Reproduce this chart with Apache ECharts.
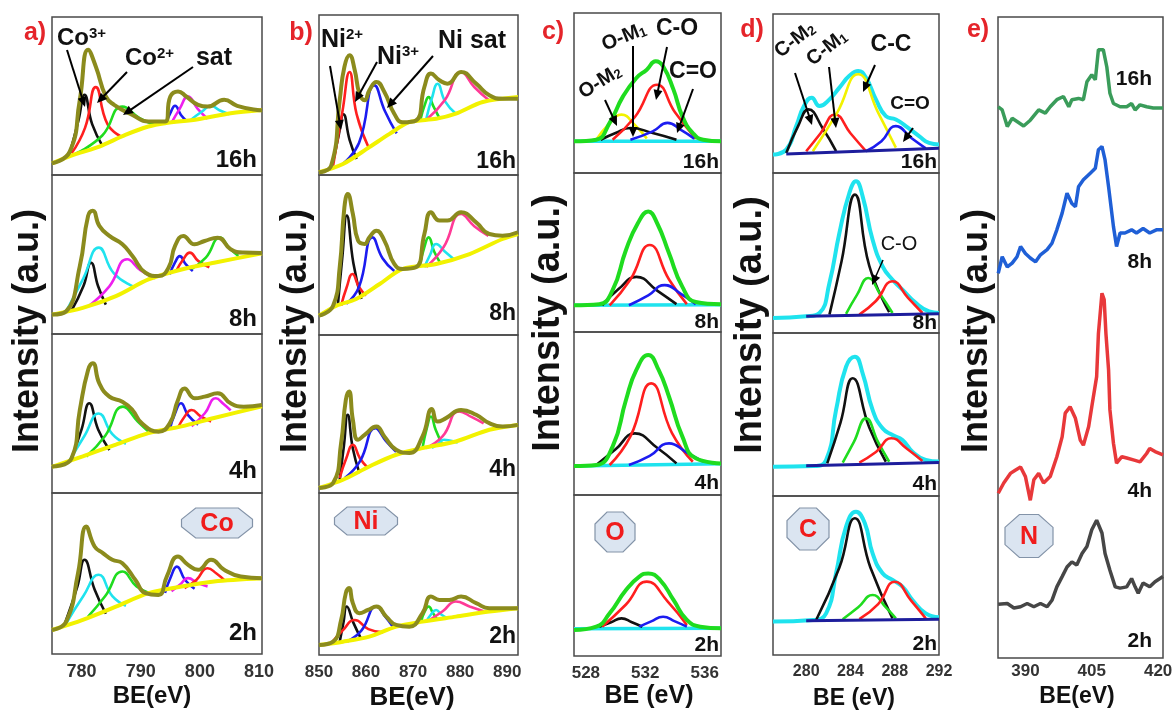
<!DOCTYPE html>
<html>
<head>
<meta charset="utf-8">
<script src="https://cdn.jsdelivr.net/npm/echarts@6/dist/echarts.min.js"></script>
<style>
  html, body { margin: 0; background: #fff; }
  #chart { width: 1174px; height: 717px; }
</style>
</head>
<body>
<div id="chart"></div>
<script>
// ---- data: [BE (eV), intensity in % of sub-panel height] ----
const coTicks = [780, 790, 800, 810]
const niTicks = [850, 860, 870, 880, 890]
const oTicks = [528, 532, 536]
const cTicks = [280, 284, 288, 292]
const nTicks = [390, 405, 420]
const timeLabels = ['16h', '8h', '4h', '2h']

// a) Co 2p
const coEnv16 = [[775,7.4],[778,14.8],[779.7,47.6],[781.1,79.3],[782.4,68.7],[784.1,49.7],[785.5,44.4],[788.6,38],[791.3,33.8],[794.1,33.8],[795,49.7],[796.3,52.9],[797.7,49.7],[799.7,44.4],[801.3,43.3],[804.1,47.6],[806.3,43.8],[809.7,41.2],[810.5,41]]
const coBg16 = [[775,7.4],[779.1,13.3],[783,18],[787.4,25.4],[791.3,30.7],[794.1,32.8],[799.7,35.3],[805.2,39.1],[810.5,41.2]]
const coPeaks16 = [
  [[778,13.7],[779.5,35],[780.5,50.7],[781.8,32],[783.6,18]],
  [[778.3,13.7],[780.6,30],[782.4,55.6],[784.4,32],[786.9,24]],
  [[779,13.5],[783.5,25],[786.9,43.3],[789.8,36],[792.5,31.5]],
  [[794.3,33],[795.1,40],[795.8,43.8],[796.8,38],[797.8,34]],
  [[795.2,33],[796.6,42],[798,49.7],[799.6,42],[801.3,35.5]],
  [[798.5,35],[800.3,40],[801.9,43.8],[803.3,41],[805,38.5]]
]
const coEnv8 = [[775,12.2],[777.4,14.3],[779.7,42.7],[781.1,74.3],[781.9,77.5],[783,68],[784.7,61.7],[786.9,56.4],[788.6,49],[790.8,38.5],[793,36.4],[794.7,41.7],[795.8,55.4],[797.2,61.7],[799.1,56.4],[800.8,58.5],[803,60.6],[805.2,53.3],[807.4,51.2],[810.5,51]]
const coBg8 = [[775,12.2],[780.2,16.4],[785.8,23.8],[791.3,34.3],[796.9,40.6],[802.4,44.8],[810.5,50.8]]
const coPeaks8 = [
  [[778.3,14.7],[780.3,30],[781.6,44.8],[782.8,30],[784.1,18.5]],
  [[777.4,14.3],[780.3,35],[782.9,54.3],[785.5,38],[789,29.5]],
  [[781,17],[784.7,30],[787.7,47],[790,40],[792.5,35]],
  [[794.9,37.5],[795.8,45],[796.6,49],[797.6,44],[798.8,39.6]],
  [[796,39.6],[797.2,47],[798.3,51.2],[799.7,46],[801.6,42]],
  [[798.6,41],[801,48],[803.4,60.6],[805,54],[806.5,49]]
]
const coEnv4 = [[775,16.6],[778.3,21.8],[779.7,52.2],[781.1,77.4],[781.9,81.6],[783,69],[784.7,60.6],[786.9,57.4],[788.6,52.2],[790.2,43.8],[793,38.6],[794.9,43.8],[796.3,58.5],[797.4,65.8],[799.1,59.6],[800.8,60.6],[803,62.7],[805.2,56.4],[807.4,54.3],[810.5,55.3]]
const coBg4 = [[775,16.4],[780.2,23.1],[785.8,30.4],[791.3,37.7],[796.9,41.9],[802.4,47.2],[810.5,54.6]]
const coPeaks4 = [
  [[778.3,21.8],[780,40],[781.3,56.4],[782.8,40],[784.7,27]],
  [[778,20.7],[780.5,36],[782.9,50],[785.2,37],[787.5,31]],
  [[780.8,23],[784,36],[787,54.3],[789.5,45],[791.5,38]],
  [[794.9,40],[795.8,50],[796.8,56.4],[798,49],[799.7,43]],
  [[796.3,41],[797.4,48],[798.6,52.2],[800.2,48],[801.9,45]],
  [[798.6,42],[800.8,50],[802.7,59.6],[804,56],[805.2,52]]
]
const coEnv2 = [[775,14.9],[777.4,20.1],[779.4,50.2],[780.8,79.2],[782.2,66.8],[783.6,62.7],[785.2,58.5],[786.9,56.4],[789.1,46],[790.8,37.8],[793,36.7],[794.4,48.1],[796.3,60.5],[798,55.4],[799.7,52.3],[801.9,58.5],[804.1,52.3],[806.9,48.1],[810.5,47]]
const coBg2 = [[775,14.9],[780.2,21.2],[785.8,29.4],[791.3,37.8],[796.9,41.9],[802.4,45],[810.5,47]]
const coPeaks2 = [
  [[777.2,19.1],[779.3,42],[780.5,58.5],[782.2,40],[784.1,25]],
  [[777.4,19.1],[780.3,36],[782.9,49.2],[785.2,36],[787.5,30]],
  [[781.1,23.2],[784,36],[786.9,51.2],[789.3,42],[791.5,37.8]],
  [[794.1,38],[795.1,48],[796.1,54.3],[797.5,46],[799.1,40.5]],
  [[795.2,39],[796.6,43],[798,47.1],[799.6,44],[801.3,42]],
  [[797.4,41],[799.4,46],[801.3,53.3],[802.8,50],[804.1,46]]
]

// b) Ni 2p
const niEnv16 = [[850,1.7],[852.6,5.9],[854.4,46.7],[855.4,67.6],[856.5,74.9],[857.6,65.5],[858.6,50.8],[859.7,46.7],[860.7,52.9],[862.2,58.2],[863.9,51.9],[866,38.3],[867.8,33],[870.6,34.1],[872.4,55],[873.8,63.4],[875.6,59.2],[877.3,57.1],[880.2,64.4],[883.4,57.1],[886.2,49.8],[889,47.7],[892.3,47.7]]
const niBg16 = [[850,1.7],[855.1,6.9],[860.7,17.4],[865,25.7],[869.2,33],[874.9,35.1],[879.1,38.3],[884.8,45.6],[892.3,48.7]]
const niPeaks16 = [
  [[852.8,6],[854.2,25],[855.2,38],[856.5,22],[858,10]],
  [[853,5.9],[855,40],[856.5,64.4],[858,38],[860.5,17.5]],
  [[855.1,7],[858.5,20],[861.8,56],[864,40],[866.5,26]],
  [[871.6,35],[872.5,44],[873.3,48.7],[874.3,43],[875.6,35.5]],
  [[872.8,35],[874,48],[875.2,57],[876.8,46],[879.1,38.3]],
  [[873,35],[876.8,47],[880.2,64.4],[883,55],[886,47]]
]
const niEnv8 = [[850,12.1],[853,18.3],[854.4,42.3],[855.4,79.8],[856.1,88.1],[857.2,75.6],[858.3,59],[859.7,56.9],[860.7,61],[862.2,65.2],[863.9,59],[866,44.4],[867.8,41.3],[870.6,42.3],[872.4,63.1],[873.8,76.7],[875.6,71.5],[877.3,71.5],[880.2,76.7],[883.4,70.4],[886.2,63.1],[889,62.1],[892.3,64.2]]
const niBg8 = [[850,12.1],[853.7,18.3],[857.9,22.5],[862.9,31.9],[867.8,41.3],[874.9,44.4],[882,50.6],[889,60],[892.3,63.1]]
const niPeaks8 = [
  [[854,18.3],[855,50],[855.9,74.6],[857.3,45],[859,22.5]],
  [[854.7,18.3],[855.9,30],[857.1,38.1],[858.5,30],[860,24.6]],
  [[855.8,19.5],[858.5,30],[861.4,61],[863.5,48],[866,40]],
  [[871.3,42.3],[872.4,55],[873.3,61],[874.5,52],[875.9,44.4]],
  [[872.4,42.3],[873.6,50],[874.9,56.9],[876.8,52],[878.8,47]],
  [[872.8,42.5],[876.5,55],[880.2,75.6],[883,68],[886,62]]
]
const niEnv4 = [[850,3.2],[853,6.3],[854.7,31.6],[855.7,58.9],[856.4,64.2],[857.2,46.3],[858.3,33.7],[859.7,36.8],[862.2,42.1],[863.9,35.8],[866.4,27.4],[869.2,25.3],[872,35.8],[874,53.1],[875.2,45.2],[877,47.4],[880.2,52.6],[883.4,49.5],[886.2,44.2],[889,42.1],[892.3,43.1]]
const niBg4 = [[850,3.2],[855.1,8.4],[860.7,16.8],[866.4,24.2],[872,28.4],[879.1,32.6],[886.2,40],[892.3,43.1]]
const niPeaks4 = [
  [[854.4,8.4],[855.3,30],[856.1,49.5],[857.2,28],[858.6,12.6]],
  [[854.4,9.5],[855.8,22],[857.2,30.5],[858.7,22],[860.4,15.8]],
  [[855.5,9.5],[858.7,20],[862,41],[864.2,33],[866.4,26]],
  [[872,28.4],[873,42],[873.8,48.4],[874.8,40],[876.3,30]],
  [[874,28.5],[875.3,31],[876.6,33.7],[878,33],[879.5,32]],
  [[872.7,28.4],[876.3,36],[879.8,51.6],[882.5,48],[885,44]]
]
const niEnv2 = [[850,6.2],[853,8.2],[854.7,21.6],[855.7,38.2],[856.4,41.3],[857.2,32],[858.6,25.8],[860.4,27.8],[862.2,29.9],[864.3,23.7],[866.4,18.6],[869.2,17.5],[872,25.8],[873.8,36.1],[875.6,34],[877.7,34],[880.2,36.1],[883.4,32],[886.2,28.9],[889,28.9],[892.3,28.9]]
const niBg2 = [[850,6.2],[855.1,8.2],[860.7,11.3],[866.4,17.5],[872,20.6],[879.1,23.7],[886.2,26.8],[892.3,28.9]]
const niPeaks2 = [
  [[854.4,8.2],[855.2,20],[855.9,29.9],[857.3,20],[858.9,10.3]],
  [[852.6,7.2],[855,15],[857.6,21.6],[860.5,16],[863.6,14]],
  [[856.1,8.5],[859,15],[862.2,29.9],[864,24],[865.7,17.5]],
  [[871.7,20.6],[872.5,27],[873.3,29.9],[874.2,26],[875.2,21.6]],
  [[872.8,20.6],[873.8,25],[874.9,27.8],[876,25],[877.3,22.7]],
  [[873.5,21.6],[876.3,27],[879.1,33],[882,30],[885,27]]
]

// c) O 1s
const oEnv16 = [[527.2,19.8],[528.7,20.8],[529.6,31.3],[530.5,47.9],[531.4,59.4],[532.1,64.6],[532.7,69.8],[533.2,66.7],[533.9,52.1],[534.5,35.4],[535.2,25],[535.9,20.8],[537.1,19.8]]
const oBase16 = [[527.2,19.8],[537.1,19.8]]
const oPeaks16 = [
  [[528.7,20.8],[529.5,30],[530.4,36.5],[531.3,30],[532.1,21.5]],
  [[529,20.8],[530,25],[531,28.1],[532.5,25],[534.1,20.8]],
  [[529.8,20.8],[531.3,35],[532.8,55.2],[534,38],[535.4,21.5]],
  [[531,20.8],[532.5,26],[533.5,31.3],[534.4,27],[535.3,21.5]]
]
const oEnv8 = [[527.2,16.8],[528.9,17.5],[529.8,26.3],[530.7,51.6],[531.5,68.4],[532.2,75.8],[532.8,68.4],[533.6,49.5],[534.5,28.4],[535.4,18.9],[537.1,17.5]]
const oBase8 = [[527.2,16.8],[537.1,17.2]]
const oPeaks8 = [
  [[529.1,16.8],[530.2,27],[531.4,34.7],[532.8,26],[534.1,17.5]],
  [[529.6,16.8],[531,33],[532.3,54.7],[533.6,33],[534.8,17.5]],
  [[530.9,16.8],[532.2,23],[533.3,29.5],[534.4,24],[535.4,17.5]]
]
const oEnv4 = [[527.2,17.8],[528.7,18.4],[529.8,29.7],[530.7,58.3],[531.4,76.7],[532.2,85.9],[532.9,76.7],[533.6,60.3],[534.5,35.8],[535.4,22.5],[537.1,19.4]]
const oBase4 = [[527.2,17.8],[537.1,19.2]]
const oPeaks4 = [
  [[528.7,18.4],[530,28],[531.3,37.8],[532.8,29],[534.1,19.4]],
  [[529.6,18.4],[531,36],[532.4,68.5],[533.8,38],[535.2,20.4]],
  [[530.9,18.4],[532.3,24],[533.6,31.7],[534.8,26],[535.9,20.4]]
]
const oEnv2 = [[527.2,16.1],[528.7,18.2],[529.6,26.5],[530.7,41],[531.6,49.3],[532.2,51.3],[533,47.2],[533.9,34.8],[534.8,22.4],[535.7,18.2],[537.1,17.2]]
const oBase2 = [[527.2,17],[537.1,17.2]]
const oPeaks2 = [
  [[528.9,18.2],[529.7,21],[530.4,23.4],[531.1,21],[531.8,18.2]],
  [[529.1,18.2],[530.7,32],[532.1,46.2],[533.5,34],[534.8,19.3]],
  [[531.6,18.2],[532.4,21.5],[533.2,24.4],[534,21.5],[534.8,18.2]]
]

// d) C 1s
const cEnv16 = [[277,11.6],[278.2,14.7],[279.1,29.5],[279.8,42.1],[280.5,47.4],[281.2,42.1],[282.1,46.3],[283,53.7],[283.9,61.1],[284.7,64.2],[285.4,60],[286.3,46.3],[287.2,35.8],[288.1,33.7],[289,29.5],[290.2,23.2],[291.1,18.9],[292,17.9]]
const cBase16 = [[278.2,12],[292,15.5]]
const cPeaks16 = [
  [[278.2,12.6],[279.3,30],[280.2,40],[281.5,28],[282.7,13.7]],
  [[280,13.7],[281.3,25],[282.6,36.8],[284,25],[285.4,13.7]],
  [[280.6,13.7],[282.8,38],[284.7,62.1],[286.5,38],[288.1,16]],
  [[285.4,13.7],[286.8,20],[288.1,29.5],[289.5,22],[290.8,15.5]]
]
const cEnv8 = [[277,9.4],[280,10.4],[281.2,12.5],[282.1,31.3],[283,62.5],[283.9,87.5],[284.5,94.8],[285.1,85.4],[286,58.3],[286.9,41.7],[287.8,33.3],[288.7,27.1],[289.9,18.8],[291.1,13.5],[292,12.5]]
const cBase8 = [[280,10.5],[292,12]]
const cPeaks8 = [
  [[282.1,11.5],[283.2,45],[284.4,86.5],[285.7,42],[287.5,13]],
  [[283.6,12],[284.6,24],[285.6,34.4],[286.7,24],[287.8,12.5]],
  [[284.8,11.5],[286.3,20],[287.8,32.3],[289.2,22],[290.5,12.5]]
]
const cEnv4 = [[277,18],[280.6,18.4],[281.8,22.1],[282.7,52.8],[283.6,79.3],[284.4,85.5],[285.1,75.3],[286,52.8],[286.9,41.5],[287.8,37.4],[288.7,34.4],[289.6,27.2],[290.8,22.1],[292,21.1]]
const cBase4 = [[280,18.5],[292,20.5]]
const cPeaks4 = [
  [[281.9,20],[283.1,45],[284.2,72.2],[285.7,42],[287.2,21]],
  [[283.3,20.5],[284.3,33],[285.4,47.6],[286.5,33],[287.5,21]],
  [[284.8,20.5],[286.3,27],[287.7,35.4],[289.1,29],[290.5,21.5]]
]
const cEnv2 = [[277,21],[280.6,22],[281.8,26.2],[282.7,51.4],[283.6,80.7],[284.5,90.1],[285.3,82.8],[286,63.9],[286.9,51.4],[287.8,47.2],[288.7,43],[289.6,34.6],[290.8,26.2],[292,23.7]]
const cBase2 = [[280,21.5],[292,22.5]]
const cPeaks2 = [
  [[280.9,22],[283,55],[284.4,86],[285.8,55],[287.8,23]],
  [[283.3,22.5],[284.7,30],[286,37.7],[287.2,30],[288.1,23]],
  [[284.8,22.5],[286.5,32],[288,46.1],[289.5,34],[290.8,23]]
]

// e) N 1s (single stacked panel)
const nSpec16 = [[383.85,86],[384.75,85.5],[385.9,82.9],[387,84.2],[388.1,83.7],[389.6,83],[391.1,83.9],[393,85.5],[394.5,85],[395.6,86],[397.1,87.1],[398.6,87.6],[399.8,86],[400.5,87.1],[402,87.3],[403.1,87.1],[403.9,89.9],[405,91],[405.8,90.2],[406.5,94.9],[407.6,94.9],[408.4,92.2],[409.1,88.1],[409.9,86.5],[411.4,86],[412.9,86],[414,86.5],[414.8,85.5],[415.9,86.3],[417.4,86],[418.9,85.8],[421.1,85.8]]
const nSpec8 = [[383.85,60],[384.75,62.6],[385.9,61],[387,61.6],[388.1,62.6],[388.9,64.2],[390,63.1],[391.1,62.4],[392.3,61.8],[393.4,62.9],[394.9,63.7],[396,64.7],[397.1,66.8],[398.3,69.4],[399.4,72.5],[400.5,70.9],[401.3,70.4],[402,73.5],[403.1,74.6],[404.6,75.6],[405.8,76.4],[406.5,79.3],[407.3,79.8],[408,77.7],[408.8,73.5],[409.9,67.3],[410.6,64.2],[411.4,66.3],[412.5,66.3],[414,66.8],[415.1,66.3],[416.6,67],[418.1,66.3],[419.6,66.8],[421.1,66.8]]
const nSpec4 = [[383.85,25.7],[385.1,27.3],[386.6,28.8],[387.7,29.3],[388.9,29.8],[390,28.3],[391.1,24.6],[391.9,27.8],[393,28.8],[394.1,27.3],[395.6,28.3],[397.1,31.4],[398.3,34.5],[399,38.2],[400.1,39.2],[401.3,37.4],[402.4,34],[403.1,33.2],[404.3,36.1],[405,39.2],[406.1,43.9],[406.5,50.6],[407.3,56.9],[407.8,55.9],[408.2,50.6],[408.8,44.9],[409.1,38.7],[409.9,33.5],[410.6,30.4],[411.8,31.4],[412.9,31.2],[414.4,30.9],[415.9,30.6],[417.4,31.9],[418.1,32.7],[419.3,32.2],[421.1,31.7]]
const nSpec2 = [[383.85,8.4],[385.9,8.5],[387.4,7.8],[388.9,8],[390.4,8.5],[391.9,8],[393.4,8.5],[394.9,8],[396,9],[397.1,11.1],[398.3,12.7],[399.4,14.2],[400.5,15],[401.6,14.5],[402.8,16.3],[403.9,17.4],[405,20],[406.1,21.5],[407.3,19.5],[408,16.3],[409.1,13.7],[410.3,11.1],[411.4,10.9],[412.9,11.1],[414,12.4],[414.8,11.1],[415.5,10.1],[416.6,11.7],[418.1,11.1],[419.3,11.9],[421.1,12.7]]

// ---- styles ----
const FONT = '"Liberation Sans", Arial, sans-serif'
const COL = {
  k: '#111111', r: '#ff1f1f', g: '#1fdc1f', b: '#1c1cf0', m: '#ee1fee',
  c: '#1fe3ee', y: '#f2f200', p: '#ff3a96', olive: '#8b8b1d', navy: '#1d1d9c'
}
const RED_TXT = '#e5242a'

const grid = []
const xAxis = []
const yAxis = []
const series = []
const graphic = []

function addGrid(left, right, top, bottom, xMin, xMax, ticks, tickSize, tickMargin) {
  const i = grid.length
  grid.push({
    left: left, top: top, width: right - left, height: bottom - top,
    show: true, borderColor: '#4a4a4a', borderWidth: 1.5,
    outerBoundsMode: 'none'
  })
  xAxis.push({
    type: 'value', gridIndex: i, min: xMin, max: xMax,
    axisLine: { show: false }, axisTick: { show: false }, splitLine: { show: false },
    axisLabel: ticks ? {
      show: true, customValues: ticks, fontSize: tickSize, fontWeight: 'bold',
      color: '#333', fontFamily: FONT, margin: tickMargin || 9
    } : { show: false }
  })
  yAxis.push({ type: 'value', gridIndex: i, min: 0, max: 100, show: false })
  return i
}

function line(gi, data, color, width, smooth) {
  series.push({
    type: 'line', xAxisIndex: gi, yAxisIndex: gi, data: data,
    showSymbol: false, silent: true, smooth: smooth === undefined ? 0.5 : smooth,
    lineStyle: { color: color, width: width }
  })
}

function txt(x, y, text, size, o) {
  o = o || {}
  const align = o.align || 'center'
  graphic.push({
    type: 'text', x: x, y: y, z: 100, rotation: o.rot || 0,
    style: {
      text: text, fontSize: size, fontWeight: o.weight || 'bold', fontFamily: FONT,
      fill: o.color || '#111', align: align, textAlign: align,
      verticalAlign: 'middle', textVerticalAlign: 'middle', rich: o.rich
    }
  })
}

function arrow(x1, y1, x2, y2, w) {
  const a = Math.atan2(y2 - y1, x2 - x1), L = 10, W = 4.5
  const ca = Math.cos(a), sa = Math.sin(a)
  graphic.push({ type: 'line', z: 100, shape: { x1: x1, y1: y1, x2: x2 - ca * L * 0.6, y2: y2 - sa * L * 0.6 },
    style: { stroke: '#000', lineWidth: w || 2 } })
  graphic.push({ type: 'polygon', z: 100, shape: { points: [[x2, y2],
    [x2 - L * ca + W * sa, y2 - L * sa - W * ca], [x2 - L * ca - W * sa, y2 - L * sa + W * ca]] },
    style: { fill: '#000' } })
}

function badge(cx, cy, w, h, inset, side, label) {
  const hw = w / 2, hh = h / 2, ix = w * inset, iy = h * side
  graphic.push({ type: 'polygon', z: 99, shape: { points: [
    [cx - hw, cy - iy], [cx - hw + ix, cy - hh], [cx + hw - ix, cy - hh], [cx + hw, cy - iy],
    [cx + hw, cy + iy], [cx + hw - ix, cy + hh], [cx - hw + ix, cy + hh], [cx - hw, cy + iy]] },
    style: { fill: '#dbe5f1', stroke: '#8393a8', lineWidth: 1.2 } })
  txt(cx, cy + 1, label, 25, { color: '#f01c1c' })
}

// ---- fitted panels a-d ----
const fitPanels = [
  { left: 52, right: 262, rows: [17, 175, 334, 493, 654], xMin: 775, xMax: 810.5, ticks: coTicks, tickSize: 18,
    env: [coEnv16, coEnv8, coEnv4, coEnv2], base: [coBg16, coBg8, coBg4, coBg2],
    peaks: [coPeaks16, coPeaks8, coPeaks4, coPeaks2],
    colors: [['k','r','g','b','m','c'], ['k','c','m','b','r','g'], ['k','c','g','b','r','m'], ['k','c','g','b','m','r']],
    envColor: COL.olive, baseColor: COL.y, mode: 'ab',
    timeX: 257, timeY: [160, 319, 471, 633], timeSize: 24 },
  { left: 319, right: 518, rows: [15, 175, 335, 493, 655], xMin: 850, xMax: 892.3, ticks: niTicks, tickSize: 17,
    env: [niEnv16, niEnv8, niEnv4, niEnv2], base: [niBg16, niBg8, niBg4, niBg2],
    peaks: [niPeaks16, niPeaks8, niPeaks4, niPeaks2],
    colors: [['k','r','b','g','c','p'], ['k','r','b','g','c','p'], ['k','r','b','g','c','p'], ['k','r','b','g','c','p']],
    envColor: COL.olive, baseColor: COL.y, mode: 'ab',
    timeX: 516, timeY: [162, 314, 470, 637], timeSize: 23 },
  { left: 574, right: 721, rows: [13, 173, 332, 495, 656], xMin: 527.2, xMax: 537.1, ticks: oTicks, tickSize: 17,
    env: [oEnv16, oEnv8, oEnv4, oEnv2], base: [oBase16, oBase8, oBase4, oBase2],
    peaks: [oPeaks16, oPeaks8, oPeaks4, oPeaks2],
    colors: [['y','k','r','b'], ['k','r','b'], ['k','r','b'], ['k','r','b']],
    envColor: COL.g, baseColor: COL.c, mode: 'c',
    timeX: 719, timeY: [162, 322, 483, 645], timeSize: 21 },
  { left: 773, right: 939, rows: [14, 173, 333, 496, 655], xMin: 277, xMax: 292, ticks: cTicks, tickSize: 16,
    env: [cEnv16, cEnv8, cEnv4, cEnv2], base: [cBase16, cBase8, cBase4, cBase2],
    peaks: [cPeaks16, cPeaks8, cPeaks4, cPeaks2],
    colors: [['k','r','y','b'], ['k','g','r'], ['k','g','r'], ['k','g','r']],
    envColor: COL.c, baseColor: COL.navy, mode: 'd',
    timeX: 937, timeY: [162, 323, 484, 644], timeSize: 21 }
]

fitPanels.forEach(p => {
  for (let r = 0; r < 4; r++) {
    const last = r === 3
    const gi = addGrid(p.left, p.right, p.rows[r], p.rows[r + 1], p.xMin, p.xMax,
      last ? p.ticks : null, p.tickSize)
    const peakLines = () => p.peaks[r].forEach((pk, k) => line(gi, pk, COL[p.colors[r][k]], 2.6))
    if (p.mode === 'ab') {
      peakLines()
      line(gi, p.base[r], p.baseColor, 4, 0.3)
      line(gi, p.env[r], p.envColor, 4)
    } else if (p.mode === 'c') {
      line(gi, p.base[r], p.baseColor, 3.5, false)
      peakLines()
      line(gi, p.env[r], p.envColor, 4)
    } else {
      line(gi, p.env[r], p.envColor, 4)
      peakLines()
      line(gi, p.base[r], p.baseColor, 3, false)
    }
    txt(p.timeX, p.timeY[r], timeLabels[r], p.timeSize, { align: 'right' })
  }
})

// ---- panel e ----
const ge = addGrid(998, 1163, 17, 658, 383.8, 421.1, nTicks, 17, 5)
line(ge, nSpec16, '#3a9c5a', 3.5, false)
line(ge, nSpec8, '#1f5fd6', 3.5, false)
line(ge, nSpec4, '#e8383a', 3.5, false)
line(ge, nSpec2, '#464646', 3.5, false)
;[[79, '16h'], [262, '8h'], [491, '4h'], [641, '2h']].forEach(t => txt(1152, t[0], t[1], 21, { align: 'right' }))

// ---- panel letters, axis titles ----
;[[35, 33, 'a)'], [301, 33, 'b)'], [553, 32, 'c)'], [752, 30, 'd)'], [978, 30, 'e)']]
  .forEach(t => txt(t[0], t[1], t[2], 25, { color: RED_TXT }))
;[[28, 331, 36], [296, 331, 36], [549, 323, 38], [751, 325, 38], [977, 331, 36]]
  .forEach(t => txt(t[0], t[1], 'Intensity (a.u.)', t[2], { rot: Math.PI / 2 }))
txt(152, 696, 'BE(eV)', 24)
txt(412, 698, 'BE(eV)', 26)
txt(649, 696, 'BE (eV)', 25)
txt(854, 699, 'BE (eV)', 23)
txt(1077, 697, 'BE(eV)', 23)

// ---- peak annotations ----
const supRich = (b, s) => ({
  b: { fontSize: b, fontWeight: 'bold', fontFamily: FONT, fill: '#111' },
  s: { fontSize: s, fontWeight: 'bold', fontFamily: FONT, fill: '#111', verticalAlign: 'top' }
})
const subRich = (b, s) => ({
  b: { fontSize: b, fontWeight: 'bold', fontFamily: FONT, fill: '#111' },
  s: { fontSize: s, fontWeight: 'bold', fontFamily: FONT, fill: '#111', verticalAlign: 'bottom' }
})
// a) Co
txt(57, 38, '{b|Co}{s|3+}', 24, { align: 'left', rich: supRich(24, 15) })
txt(125, 58, '{b|Co}{s|2+}', 24, { align: 'left', rich: supRich(24, 15) })
txt(214, 58, 'sat', 25)
arrow(67, 50, 85, 107)
arrow(127, 72, 97, 103)
arrow(193, 67, 123, 115)
// b) Ni
txt(321, 40, '{b|Ni}{s|2+}', 25, { align: 'left', rich: supRich(25, 15) })
txt(377, 57, '{b|Ni}{s|3+}', 25, { align: 'left', rich: supRich(25, 15) })
txt(472, 41, 'Ni sat', 25)
arrow(330, 66, 341, 130)
arrow(377, 62, 355, 102)
arrow(433, 56, 387, 108)
// c) O
txt(600, 82, '{b|O-M}{s|2}', 20, { rot: 0.56, rich: subRich(20, 13) })
txt(624, 37, '{b|O-M}{s|1}', 20, { rot: 0.38, rich: subRich(20, 13) })
txt(677, 29, 'C-O', 23)
txt(693, 72, 'C=O', 23)
arrow(605, 100, 617, 126)
arrow(633, 46, 633, 137)
arrow(667, 47, 656, 100)
arrow(693, 89, 677, 133)
// d) C
txt(795, 40, '{b|C-M}{s|2}', 20, { rot: 0.66, rich: subRich(20, 13) })
txt(827, 48, '{b|C-M}{s|1}', 20, { rot: 0.66, rich: subRich(20, 13) })
txt(891, 45, 'C-C', 23)
txt(910, 104, 'C=O', 19)
txt(899, 244, 'C-O', 20, { weight: 'normal' })
arrow(795, 73, 812, 125)
arrow(829, 67, 836, 128)
arrow(875, 65, 863, 92)
arrow(913, 128, 903, 142)
arrow(883, 260, 872, 285, 1.5)

// ---- element badges ----
badge(217, 523, 71, 30, 0.2, 0.12, 'Co')
badge(366, 521, 63, 28, 0.2, 0.12, 'Ni')
badge(615, 532, 40, 40, 0.3, 0.2, 'O')
badge(808, 529, 42, 42, 0.3, 0.2, 'C')
badge(1029, 536, 48, 43, 0.3, 0.2, 'N')

const chart = echarts.init(document.getElementById('chart'))
chart.setOption({
  animation: false,
  backgroundColor: '#fff',
  grid: grid,
  xAxis: xAxis,
  yAxis: yAxis,
  series: series,
  graphic: { elements: graphic }
})
</script>
</body>
</html>
